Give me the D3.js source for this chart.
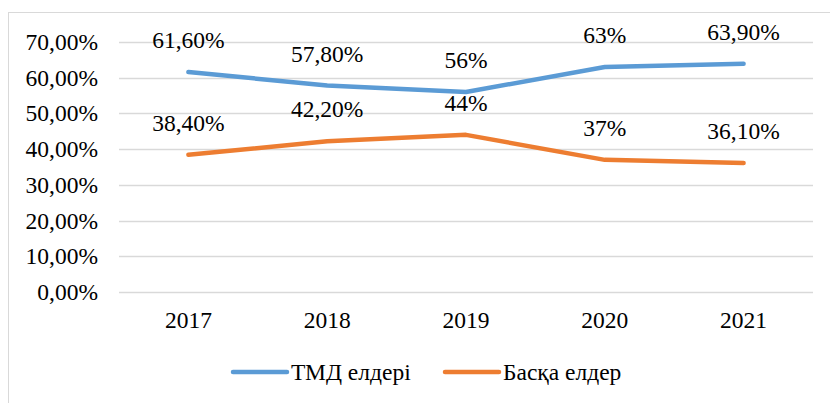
<!DOCTYPE html>
<html>
<head>
<meta charset="utf-8">
<script src="https://cdn.jsdelivr.net/npm/d3@7"></script>
<style>
  body { margin: 0; background: #fff; }
  svg text { font-family: "Times New Roman", "Liberation Serif", Tinos, "DejaVu Serif", serif !important; }
</style>
</head>
<body>
<div id="chart"></div>
<script>
const YEARS = ['2017', '2018', '2019', '2020', '2021'];
const CIS = [61.6, 57.8, 56, 63, 63.9];
const OTHER = [38.4, 42.2, 44, 37, 36.1];
const CIS_LABELS = ['61,60%', '57,80%', '56%', '63%', '63,90%'];
const OTHER_LABELS = ['38,40%', '42,20%', '44%', '37%', '36,10%'];
const Y_TICKS = [0, 10, 20, 30, 40, 50, 60, 70];
const SERIES_NAMES = ['ТМД елдері', 'Басқа елдер'];

const BLUE = '#5b9bd5', ORANGE = '#ed7d31';
const FONT = 23.5;

const w = 830, h = 403;
const m = { top: 42, right: 17, bottom: 111, left: 119 };
const iw = w - m.left - m.right;
const ih = h - m.top - m.bottom;

const svg = d3.select('#chart').append('svg')
  .attr('width', w).attr('height', h);

// outer chart border
svg.append('rect')
  .attr('x', 8.5).attr('y', 12.5)
  .attr('width', 840).attr('height', 420)
  .attr('fill', 'none').attr('stroke', '#d9d9d9');

const g = svg.append('g').attr('transform', `translate(${m.left},${m.top})`);

const x = d3.scaleBand().domain(YEARS).range([0, iw]);
const y = d3.scaleLinear().domain([0, 70]).range([ih, 0]);

// gridlines
g.selectAll('line.grid')
  .data(Y_TICKS)
  .join('line')
  .attr('class', 'grid')
  .attr('x1', 0).attr('x2', iw)
  .attr('y1', d => Math.round(y(d)) + 0.5).attr('y2', d => Math.round(y(d)) + 0.5)
  .attr('stroke', '#d9d9d9').attr('stroke-width', 1.3);

// y axis labels
const yAxis = g.append('g')
  .call(d3.axisLeft(y).tickValues(Y_TICKS).tickSize(0).tickPadding(21)
    .tickFormat(d => d3.format('.2f')(d).replace('.', ',') + '%'));
yAxis.select('.domain').remove();
yAxis.attr('font-family', null);
yAxis.selectAll('text').attr('font-size', FONT).attr('fill', '#000');

// x axis labels
const xAxis = g.append('g')
  .attr('transform', `translate(0,${ih})`)
  .call(d3.axisBottom(x).tickSize(0).tickPadding(19));
xAxis.select('.domain').remove();
xAxis.attr('font-family', null);
xAxis.selectAll('text').attr('font-size', FONT).attr('fill', '#000');

const cx = d => x(d) + x.bandwidth() / 2;

const series = [
  { values: CIS, labels: CIS_LABELS, color: BLUE },
  { values: OTHER, labels: OTHER_LABELS, color: ORANGE },
];

const line = d3.line()
  .x((d, i) => cx(YEARS[i]))
  .y(d => y(d));

series.forEach(s => {
  g.append('path')
    .datum(s.values)
    .attr('fill', 'none')
    .attr('stroke', s.color)
    .attr('stroke-width', 4.5)
    .attr('stroke-linecap', 'round')
    .attr('stroke-linejoin', 'round')
    .attr('d', line);

  g.selectAll(null)
    .data(s.values)
    .join('text')
    .attr('x', (d, i) => cx(YEARS[i]))
    .attr('y', d => y(d) - 24)
    .attr('text-anchor', 'middle')
    .attr('font-size', FONT)
    .attr('fill', '#000')
    .text((d, i) => s.labels[i]);
});

// legend
const legend = svg.append('g').attr('transform', 'translate(0,372)');
const legendItems = [
  { name: SERIES_NAMES[0], color: BLUE, x: 233 },
  { name: SERIES_NAMES[1], color: ORANGE, x: 445 },
];
legendItems.forEach(it => {
  legend.append('line')
    .attr('x1', it.x).attr('x2', it.x + 54)
    .attr('y1', 0).attr('y2', 0)
    .attr('stroke', it.color).attr('stroke-width', 4.5)
    .attr('stroke-linecap', 'round');
  legend.append('text')
    .attr('x', it.x + 58).attr('y', 8)
    .attr('font-size', FONT)
    .attr('fill', '#000')
    .text(it.name);
});
</script>
</body>
</html>
